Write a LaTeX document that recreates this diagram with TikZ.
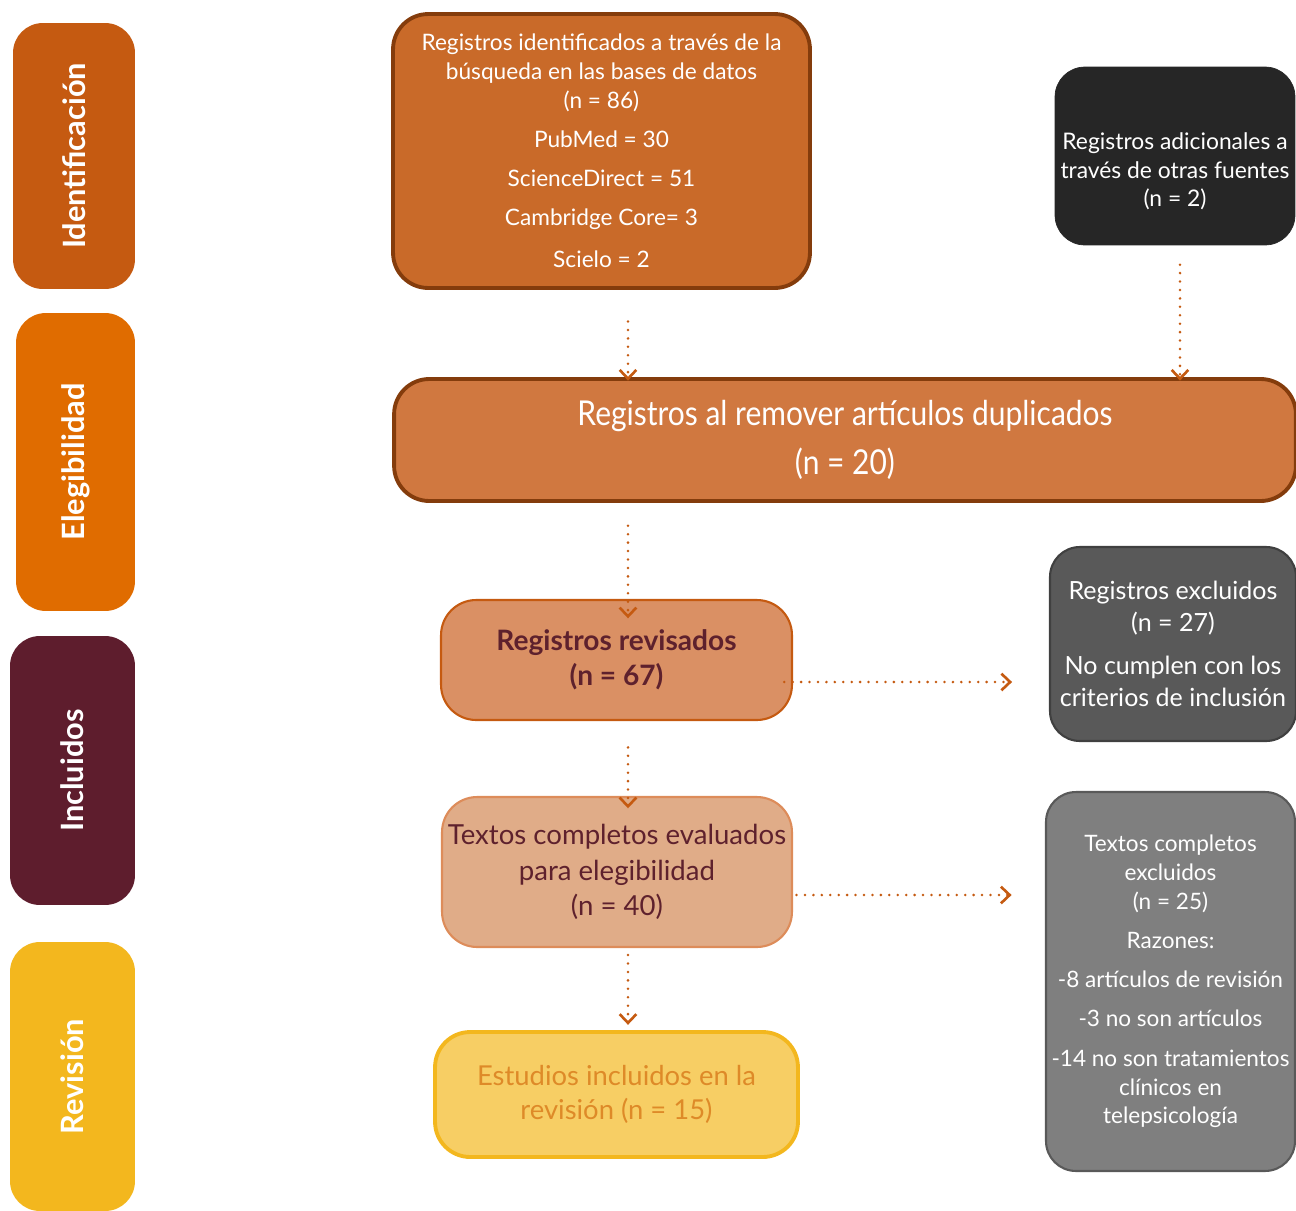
\documentclass[tikz,border=0pt]{standalone}
\usepackage{fontspec}
\setmainfont{Lato}
\newfontfamily\condfont[FakeStretch=0.875]{Lato}
\usetikzlibrary{arrows.meta}
\definecolor{identOrange}{RGB}{197,90,17}
\definecolor{elegOrange}{RGB}{224,108,0}
\definecolor{inclWine}{RGB}{94,29,45}
\definecolor{revYellow}{RGB}{243,183,30}
\definecolor{boxBrown}{RGB}{132,60,12}
\definecolor{idFill}{RGB}{201,106,41}
\definecolor{dupFill}{RGB}{208,120,64}
\definecolor{revFill}{RGB}{218,144,100}
\definecolor{fullFill}{RGB}{224,172,136}
\definecolor{fullLine}{RGB}{221,140,90}
\definecolor{studFill}{RGB}{247,206,100}
\definecolor{studText}{RGB}{222,138,40}
\definecolor{otherFill}{RGB}{38,38,38}
\definecolor{exclFill}{RGB}{89,89,89}
\definecolor{exclLine}{RGB}{64,64,64}
\definecolor{fullExclFill}{RGB}{127,127,127}
\definecolor{textWine}{RGB}{94,33,45}

\tikzset{
  stage/.style={rounded corners=17pt, rotate=90, text=white, align=center,
    font=\fontsize{17.5}{20}\selectfont\bfseries},
  box/.style={rounded corners=20pt, align=center, inner sep=2pt},
  flow/.style={draw=identOrange, line width=1.6pt, dash pattern=on 0pt off 4.8pt, line cap=round,
    -{Straight Barb[length=5pt,width=9.5pt,line width=1.5pt]}}
}

\begin{document}
\begin{tikzpicture}[x=0.02cm, y=-0.02cm]
  \useasboundingbox (0,0) rectangle (1296,1211);

  \node[stage, fill=identOrange, minimum width=5.32cm, minimum height=2.44cm] (sIdent) at (74,156) {Identificación};
  \node[stage, fill=elegOrange, minimum width=5.96cm, minimum height=2.38cm] (sEleg) at (75.5,462) {Elegibilidad};
  \node[stage, fill=inclWine, minimum width=5.38cm, minimum height=2.5cm] (sIncl) at (72.5,770.5) {Incluidos};
  \node[stage, fill=revYellow, minimum width=5.38cm, minimum height=2.5cm] (sRev) at (72.5,1076.5) {Revisión};

  \node[box, fill=idFill, draw=boxBrown, line width=2.2pt, text=white, minimum width=8.34cm, minimum height=5.48cm,
    font=\fontsize{12.9}{16.4}\selectfont] (idBox) at (601.5,151)
    {Registros identificados a través de la\\búsqueda en las bases de datos\\(n = 86)\\[5.7pt]
     PubMed = 30\\[5.7pt]ScienceDirect = 51\\[6pt]Cambridge Core= 3\\[7.6pt]Scielo = 2};
  \node[box, rounded corners=17pt, fill=otherFill, draw=otherFill, text=white, minimum width=4.8cm, minimum height=3.56cm,
    font=\fontsize{13}{16.4}\selectfont] (otherBox) at (1175,156)
    {\rule{0pt}{27pt}Registros adicionales a\\través de otras fuentes\\(n = 2)};
  \node[box, fill=dupFill, draw=boxBrown, line width=2.2pt, text=white, minimum width=18.04cm, minimum height=2.44cm,
    font=\condfont\fontsize{19.5}{27.8}\selectfont] (dupBox) at (845,440)
    {Registros al remover artículos duplicados\\(n = 20)};
  \node[box, fill=revFill, draw=identOrange, line width=1.2pt, text=textWine, minimum width=7.02cm, minimum height=2.4cm,
    font=\fontsize{16}{19.8}\selectfont\bfseries] (revBox) at (616.5,660)
    {Registros revisados\\(n = 67)};
  \node[box, fill=fullFill, draw=fullLine, line width=1.2pt, text=textWine, minimum width=7cm, minimum height=3cm,
    font=\fontsize{15.7}{20.4}\selectfont] (fullBox) at (617,872)
    {Textos completos evaluados\\para elegibilidad\\(n = 40)};
  \node[box, fill=studFill, draw=revYellow, line width=2.2pt, text=studText, minimum width=7.26cm, minimum height=2.5cm,
    font=\fontsize{15.6}{19.8}\selectfont] (studBox) at (616.5,1094.5)
    {Estudios incluidos en la\\revisión (n = 15)};
  \node[box, rounded corners=17pt, fill=exclFill, draw=exclLine, line width=1.2pt, text=white, minimum width=4.92cm,
    minimum height=3.88cm, font=\fontsize{14.25}{18.1}\selectfont] (exclBox) at (1173,644)
    {Registros excluidos\\(n = 27)\\[6.2pt]No cumplen con los\\criterios de inclusión};
  \node[box, rounded corners=17pt, fill=fullExclFill, draw=exclFill, line width=1.2pt, text=white, minimum width=4.98cm,
    minimum height=7.58cm, font=\fontsize{12.85}{16.4}\selectfont] (fullExclBox) at (1170.5,981.5)
    {Textos completos\\excluidos\\(n = 25)\\[5.7pt]Razones:\\[6.2pt]-8 artículos de revisión\\[5.7pt]
     -3 no son artículos\\[6.2pt]-14 no son tratamientos\\clínicos en\\telepsicología};

  \coordinate (colA) at (628,0);
  \coordinate (colB) at (1180,0);
  \coordinate (rowA) at (0,682);
  \coordinate (rowB) at (0,895);

  \draw[flow, shorten <=18pt, shorten >=-2pt] (idBox.south -| colA) -- (dupBox.north -| colA);
  \draw[flow, shorten <=11pt, shorten >=-2pt] (otherBox.south -| colB) -- (dupBox.north -| colB);
  \draw[flow, shorten <=13pt, shorten >=-11pt] (dupBox.south -| colA) -- (revBox.north -| colA);
  \draw[flow, shorten <=15pt, shorten >=-7pt] (revBox.south -| colA) -- (fullBox.north -| colA);
  \draw[flow, shorten <=4pt, shorten >=3pt] (fullBox.south -| colA) -- (studBox.north -| colA);
  \draw[flow, shorten <=-5pt, shorten >=21pt] (revBox.east |- rowA) -- (exclBox.west |- rowA);
  \draw[flow, shorten <=2pt, shorten >=19pt] (fullBox.east |- rowB) -- (fullExclBox.west |- rowB);
\end{tikzpicture}
\end{document}
